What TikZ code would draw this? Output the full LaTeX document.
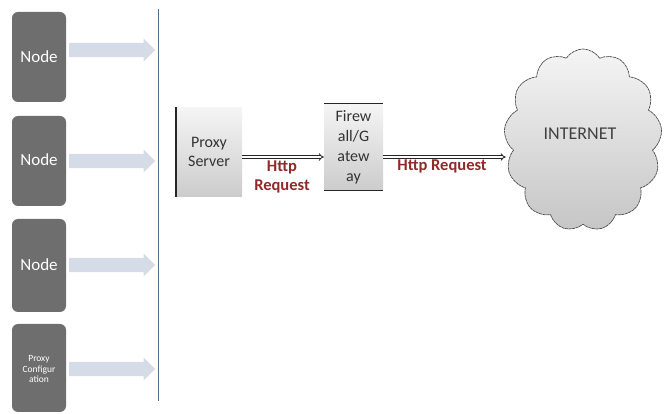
\documentclass[tikz,border=0pt]{standalone}
\usepackage{fontspec}
\setmainfont{Carlito}
\usetikzlibrary{shapes.arrows,shapes.symbols,arrows.meta}
\definecolor{nodegray}{HTML}{6E6E6E}
\definecolor{arrowblue}{HTML}{D5DCE8}
\definecolor{vline}{HTML}{56708C}
\definecolor{reqred}{HTML}{8E2A2A}
\tikzset{
  x=1pt, y=-1pt,
  hostbox/.style={rounded corners=6pt, fill=nodegray, draw=none, text=white},
  hosttext/.style={text=white, font=\fontsize{17}{19}\selectfont},
  blockarrow/.style={single arrow, fill=arrowblue, draw=none, minimum width=23pt,
    minimum height=86pt, single arrow head extend=4.5pt, single arrow head indent=0pt,
    inner xsep=0pt, inner ysep=7pt, anchor=west},
  flowbox/.style={draw=none, top color=gray!8, bottom color=gray!40, align=center,
    font=\fontsize{16}{19}\selectfont, text=black!80},
  flowarrow/.style={draw=black!85, double=white, double distance=1.6pt, line width=0.85pt,
    -{Implies[length=4pt]}},
  reqlabel/.style={text=reqred, font=\bfseries\fontsize{16.5}{19}\selectfont, align=center}
}
\begin{document}
\begin{tikzpicture}
\useasboundingbox (0,0) rectangle (665,414);
% left host nodes
\draw[hostbox] (12,12) rectangle (66,102);
\node[hosttext] (n1) at (39,57) {Node};
\draw[hostbox] (12,116) rectangle (66,206);
\node[hosttext] (n2) at (39,160) {Node};
\draw[hostbox] (12,219) rectangle (66,312);
\node[hosttext] (n3) at (39,265) {Node};
\draw[hostbox] (12,324) rectangle (66,412);
\node[text=white, align=center, font=\fontsize{9.5}{10.5}\selectfont] (n4) at (39,369) {Proxy\\Configur\\ation};
% block arrows
\node[blockarrow] (a1) at (69,50) {};
\node[blockarrow] (a2) at (69,161) {};
\node[blockarrow] (a3) at (69,265) {};
\node[blockarrow] (a4) at (69,369) {};
% vertical line
\coordinate (vtop) at (158,9);
\coordinate (vbot) at (158,401);
\draw[vline, line width=0.9pt] (vtop) -- (vbot);
% proxy server
\node[flowbox, minimum width=66pt, minimum height=89pt] (proxy) at (209,152) {Proxy\\Server};
\draw[black!85, line width=1.4pt] (proxy.north west) -- (proxy.south west);
% firewall
\node[flowbox, minimum width=59pt, minimum height=87pt, inner sep=1pt,
  font=\fontsize{16}{20}\selectfont] (fw) at (353.5,147) {Firew\\all/G\\atew\\ay};
\draw[black!85, line width=1.2pt] (fw.north west) -- (fw.north east);
\draw[black!85, line width=1.2pt] (fw.south west) -- (fw.south east);
% cloud
\node[cloud, cloud puffs=13, cloud puff arc=115, aspect=0.85, minimum width=158pt,
  minimum height=182pt, draw=black!70, dashed, dash pattern=on 3pt off 0.6pt, line width=0.7pt,
  top color=gray!8, bottom color=gray!45, inner sep=0pt] (net) at (583,140) {};
\node[text=black!75, font=\fontsize{18}{20}\selectfont] (nettext) at (580,134) {INTERNET};
% flow arrows
\draw[flowarrow] (proxy.east |- 0,157) coordinate (p1) -- (fw.west |- p1);
\draw[flowarrow] (fw.east |- 0,157) coordinate (p2) -- (net.west |- p2);
\node[reqlabel] (l1) at (282,177) {Http\\Request};
\node[reqlabel] (l2) at (442,166) {Http Request};
\end{tikzpicture}
\end{document}
